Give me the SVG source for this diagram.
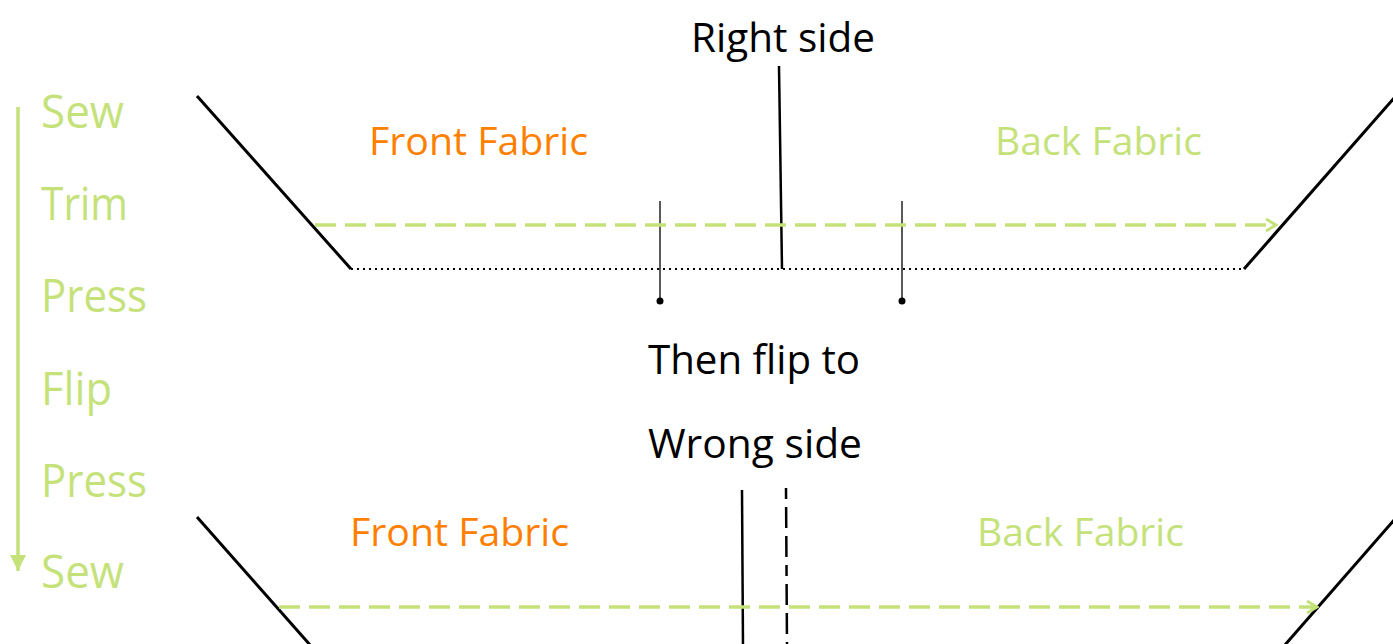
<svg xmlns="http://www.w3.org/2000/svg" width="1393" height="644" viewBox="0 0 1393 644">
  <defs>
    <style>
      text { font-family: "Open Sans", "Noto Sans", "Liberation Sans", sans-serif; }
      .step { fill: #C5E27A; font-size: 46px; }
      .label { fill: #000000; font-size: 40px; }
      .front { fill: #FF8000; font-size: 38px; }
      .back { fill: #C5E27A; font-size: 38px; }
      .edge { stroke: #000000; stroke-width: 3; fill: none; }
      .seam { stroke: #000000; stroke-width: 2; stroke-dasharray: 2 4; fill: none; }
      .flow { stroke: #C5E27A; stroke-width: 3.5; stroke-dasharray: 21 9; fill: none; }
      .pin { stroke: #222222; stroke-width: 1.5; fill: none; }
    </style>
    <marker id="chev" markerWidth="14" markerHeight="14" refX="12" refY="7" orient="auto" markerUnits="userSpaceOnUse">
      <path d="M2,1 L12,7 L2,13" fill="none" stroke="#C5E27A" stroke-width="3"/>
    </marker>
    <marker id="tri" markerWidth="18" markerHeight="18" refX="16" refY="9" orient="auto" markerUnits="userSpaceOnUse">
      <path d="M0,1 L16,9 L0,17 Z" fill="#C5E27A"/>
    </marker>
  </defs>

  <g id="steps">
    <line x1="18" y1="107" x2="18" y2="571" stroke="#C5E27A" stroke-width="3.5" marker-end="url(#tri)"/>
    <text class="step" x="41" y="128" textLength="83" lengthAdjust="spacingAndGlyphs">Sew</text>
    <text class="step" x="41" y="220" textLength="87" lengthAdjust="spacingAndGlyphs">Trim</text>
    <text class="step" x="41" y="312" textLength="106" lengthAdjust="spacingAndGlyphs">Press</text>
    <text class="step" x="41" y="405" textLength="71" lengthAdjust="spacingAndGlyphs">Flip</text>
    <text class="step" x="41" y="497" textLength="106" lengthAdjust="spacingAndGlyphs">Press</text>
    <text class="step" x="41" y="588" textLength="83" lengthAdjust="spacingAndGlyphs">Sew</text>
  </g>

  <g id="top-fabric">
    <path class="edge" d="M197,96 L351,269"/>
    <path class="edge" d="M1244,269 L1395,97"/>
    <line class="seam" x1="351" y1="269" x2="1244" y2="269"/>
    <text class="front" x="369" y="155" textLength="219" lengthAdjust="spacingAndGlyphs">Front Fabric</text>
    <text class="back" x="995" y="155" textLength="207" lengthAdjust="spacingAndGlyphs">Back Fabric</text>
  </g>

  <g id="right-side-label">
    <text class="label" x="691" y="52" textLength="184" lengthAdjust="spacingAndGlyphs">Right side</text>
    <line x1="779" y1="66" x2="782" y2="269" stroke="#000" stroke-width="2.5"/>
  </g>

  <g id="pins">
    <line class="pin" x1="660" y1="201" x2="660" y2="300"/>
    <circle cx="660" cy="301" r="3.5" fill="#000"/>
    <line class="pin" x1="902" y1="201" x2="902" y2="300"/>
    <circle cx="902" cy="301" r="3.5" fill="#000"/>
  </g>

  <g id="flip-label">
    <text class="label" x="648" y="374" textLength="212" lengthAdjust="spacingAndGlyphs">Then flip to</text>
    <text class="label" x="648" y="458" textLength="214" lengthAdjust="spacingAndGlyphs">Wrong side</text>
  </g>

  <g id="bottom-fabric">
    <path class="edge" d="M197,517 L311,646"/>
    <path class="edge" d="M1284,646 L1395,519"/>
    <text class="front" x="350" y="546" textLength="219" lengthAdjust="spacingAndGlyphs">Front Fabric</text>
    <text class="back" x="977" y="546" textLength="207" lengthAdjust="spacingAndGlyphs">Back Fabric</text>
    <line x1="742" y1="490" x2="743" y2="646" stroke="#000" stroke-width="2.5"/>
    <line x1="786" y1="488" x2="787" y2="646" stroke="#000" stroke-width="2.5" stroke-dasharray="11 8 21 8 21 8"/>
  </g>

  <g id="connectors">
    <line class="flow" x1="315" y1="225" x2="1276" y2="225" marker-end="url(#chev)"/>
    <line class="flow" x1="279" y1="607" x2="1317" y2="607" marker-end="url(#chev)"/>
  </g>
</svg>
